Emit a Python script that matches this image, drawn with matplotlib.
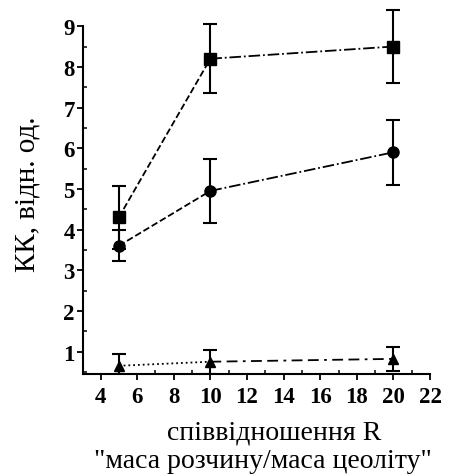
import matplotlib
matplotlib.use("Agg")
import matplotlib.pyplot as plt
from matplotlib.ticker import MultipleLocator

plt.rcParams['font.family'] = ['Liberation Serif', 'DejaVu Serif']

x = [5, 10, 20]
sq_y = [4.3, 8.2, 8.5]
sq_e = [0.78, 0.85, 0.9]
ci_y = [3.6, 4.95, 5.9]
ci_e = [0.38, 0.78, 0.8]
tr_y = [0.65, 0.75, 0.82]
tr_e = [0.3, 0.3, 0.3]

xticks = [4, 6, 8, 10, 12, 14, 16, 18, 20, 22]
yticks = [1, 2, 3, 4, 5, 6, 7, 8, 9]
ylabel = "КК, відн. од."
xlabel1 = "співвідношення R"
xlabel2 = '"маса розчину/маса цеоліту"'

fig = plt.figure(figsize=(4.67, 4.77), dpi=100)
ax = fig.add_axes([0.178, 0.214, 0.743, 0.729])

series = [
    (sq_y, sq_e, 's', 8, ('--', '-.'), False),
    (ci_y, ci_e, 'o', 8, ('--', '-.'), True),
    (tr_y, tr_e, '^', 7, (':', (0, (6, 3, 6, 3, 1.5, 3))), True),
]
for yv, ev, mk, ms, styles, clip in series:
    ax.plot(x[:2], yv[:2], linestyle=styles[0], color='black', lw=1.3)
    ax.plot(x[1:], yv[1:], linestyle=styles[1], color='black', lw=1.3)
    eb = ax.errorbar(x, yv, yerr=ev, fmt=mk, color='black', ms=ms,
                     capsize=5, elinewidth=1.5, capthick=1.5, linestyle='none')
    for art in eb.lines[1] + eb.lines[2]:
        art.set_clip_on(clip)
    eb.lines[0].set_clip_on(clip)

ax.set_xlim(3.05, 22)
ax.set_ylim(0.45, 9)
ax.set_xticks(xticks)
ax.set_yticks(yticks)
ax.xaxis.set_minor_locator(MultipleLocator(1))
ax.yaxis.set_minor_locator(MultipleLocator(0.5))
ax.tick_params(axis='both', which='major', direction='out', length=4, width=1.3,
               labelsize=16.5, pad=2)
ax.tick_params(axis='x', which='major', pad=5)
ax.tick_params(axis='both', which='minor', direction='in', length=3, width=1.1)
for t in ax.get_xticklabels() + ax.get_yticklabels():
    t.set_fontweight('bold')
for s in ['top', 'right']:
    ax.spines[s].set_visible(False)
for s in ['left', 'bottom']:
    ax.spines[s].set_linewidth(1.5)

fig.text(0.058, 0.592, ylabel, ha='center', va='center', rotation=90, fontsize=21)
fig.text(0.587, 0.093, xlabel1, ha='center', va='center', fontsize=20)
fig.text(0.563, 0.032, xlabel2, ha='center', va='center', fontsize=20)

fig.savefig("out.png", dpi=100, facecolor='white')
